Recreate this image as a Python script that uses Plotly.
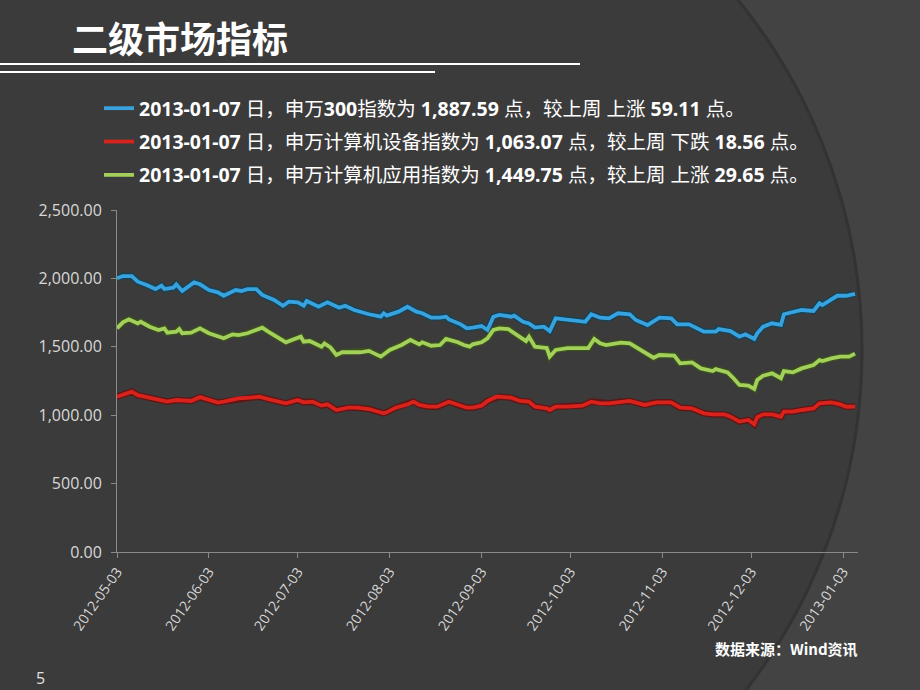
import plotly.graph_objects as go

# ---------------- data ----------------
dates_hs300 = [
    "2012-05-03", "2012-05-05", "2012-05-08", "2012-05-10", "2012-05-13", "2012-05-16", "2012-05-18",
    "2012-05-19", "2012-05-22", "2012-05-23", "2012-05-25", "2012-05-29", "2012-05-31",
    "2012-06-03", "2012-06-06", "2012-06-08", "2012-06-12", "2012-06-14", "2012-06-16", "2012-06-19",
    "2012-06-21", "2012-06-25", "2012-06-28", "2012-06-30",
    "2012-07-03", "2012-07-05", "2012-07-06", "2012-07-10", "2012-07-13", "2012-07-17", "2012-07-19",
    "2012-07-22", "2012-07-27", "2012-07-31",
    "2012-08-01", "2012-08-02", "2012-08-06", "2012-08-09", "2012-08-12", "2012-08-14", "2012-08-17",
    "2012-08-20", "2012-08-22", "2012-08-23", "2012-08-27", "2012-08-29", "2012-08-31",
    "2012-09-03", "2012-09-05", "2012-09-07", "2012-09-09", "2012-09-13", "2012-09-14", "2012-09-17",
    "2012-09-19", "2012-09-21", "2012-09-24", "2012-09-26", "2012-09-28",
    "2012-10-02", "2012-10-08", "2012-10-10", "2012-10-13", "2012-10-16", "2012-10-19", "2012-10-23",
    "2012-10-25", "2012-10-29",
    "2012-11-02", "2012-11-06", "2012-11-08", "2012-11-12", "2012-11-15", "2012-11-17", "2012-11-21",
    "2012-11-22", "2012-11-26", "2012-11-29",
    "2012-12-01", "2012-12-04", "2012-12-05", "2012-12-07", "2012-12-10", "2012-12-13", "2012-12-14",
    "2012-12-17", "2012-12-20", "2012-12-24", "2012-12-26", "2012-12-27", "2012-12-30",
    "2013-01-01", "2013-01-04", "2013-01-07",
]
values_hs300 = [
    2001, 2017, 2017, 1976, 1952, 1922, 1947, 1922, 1932, 1957, 1908, 1971, 1957,
    1915, 1898, 1873, 1915, 1908, 1922, 1922, 1879, 1842, 1800, 1830,
    1825, 1800, 1835, 1793, 1825, 1786, 1800, 1769, 1738, 1720,
    1745, 1728, 1757, 1793, 1757, 1745, 1713, 1713, 1720, 1700, 1664, 1635, 1640,
    1652, 1623, 1720, 1733, 1720, 1728, 1683, 1671, 1640, 1647, 1615, 1708,
    1700, 1683, 1738, 1713, 1708, 1745, 1738, 1696, 1659,
    1713, 1708, 1664, 1664, 1635, 1611, 1611, 1630, 1615, 1574,
    1591, 1557, 1599, 1647, 1672, 1660, 1738, 1750, 1769, 1762, 1818, 1805, 1842,
    1873, 1873, 1887.59,
]

dates_equip = [
    "2012-05-03", "2012-05-05", "2012-05-08", "2012-05-10", "2012-05-13", "2012-05-16", "2012-05-20",
    "2012-05-23", "2012-05-25", "2012-05-28", "2012-05-31",
    "2012-06-03", "2012-06-06", "2012-06-08", "2012-06-11", "2012-06-13", "2012-06-17", "2012-06-20",
    "2012-06-23", "2012-06-26", "2012-06-29",
    "2012-07-01", "2012-07-03", "2012-07-05", "2012-07-08", "2012-07-11", "2012-07-13", "2012-07-16",
    "2012-07-20", "2012-07-23", "2012-07-27",
    "2012-08-01", "2012-08-02", "2012-08-05", "2012-08-09", "2012-08-11", "2012-08-13", "2012-08-16",
    "2012-08-19", "2012-08-23", "2012-08-26", "2012-08-29", "2012-08-31",
    "2012-09-03", "2012-09-05", "2012-09-08", "2012-09-09", "2012-09-13", "2012-09-16", "2012-09-19",
    "2012-09-21", "2012-09-25", "2012-09-26", "2012-09-28",
    "2012-10-02", "2012-10-07", "2012-10-10", "2012-10-13", "2012-10-16", "2012-10-20", "2012-10-23",
    "2012-10-28",
    "2012-11-01", "2012-11-06", "2012-11-09", "2012-11-13", "2012-11-17", "2012-11-20", "2012-11-24",
    "2012-11-26", "2012-11-29",
    "2012-12-02", "2012-12-04", "2012-12-05", "2012-12-07", "2012-12-10", "2012-12-13", "2012-12-14",
    "2012-12-17", "2012-12-20", "2012-12-24", "2012-12-26", "2012-12-30",
    "2013-01-02", "2013-01-04", "2013-01-07",
]
values_equip = [
    1135, 1152, 1172, 1147, 1132, 1122, 1099, 1111, 1111, 1104, 1132,
    1111, 1092, 1099, 1111, 1123, 1128, 1135, 1118, 1099, 1087,
    1099, 1111, 1094, 1099, 1070, 1079, 1038, 1055, 1055, 1045,
    1014, 1021, 1055, 1079, 1099, 1075, 1062, 1062, 1099, 1075, 1055, 1055,
    1070, 1104, 1135, 1135, 1128, 1104, 1099, 1062, 1050, 1038, 1062,
    1062, 1070, 1099, 1087, 1087, 1099, 1104, 1075,
    1094, 1094, 1055, 1050, 1014, 1006, 1006, 989, 953,
    965, 933, 985, 1006, 1006, 989, 1026, 1026, 1038, 1050, 1087, 1094,
    1079, 1062, 1063.07,
]

dates_app = [
    "2012-05-03", "2012-05-05", "2012-05-07", "2012-05-10", "2012-05-11", "2012-05-14", "2012-05-17",
    "2012-05-19", "2012-05-20", "2012-05-23", "2012-05-24", "2012-05-25", "2012-05-28", "2012-05-31",
    "2012-06-03", "2012-06-07", "2012-06-08", "2012-06-11", "2012-06-13", "2012-06-16", "2012-06-19",
    "2012-06-21", "2012-06-23", "2012-06-26", "2012-06-29",
    "2012-07-01", "2012-07-04", "2012-07-05", "2012-07-07", "2012-07-11", "2012-07-12", "2012-07-14",
    "2012-07-16", "2012-07-18", "2012-07-21", "2012-07-24", "2012-07-27", "2012-07-31",
    "2012-08-03", "2012-08-07", "2012-08-10", "2012-08-13", "2012-08-14", "2012-08-17", "2012-08-20",
    "2012-08-22", "2012-08-26", "2012-08-28", "2012-08-30", "2012-08-31",
    "2012-09-03", "2012-09-05", "2012-09-07", "2012-09-09", "2012-09-12", "2012-09-14", "2012-09-18",
    "2012-09-19", "2012-09-21", "2012-09-23", "2012-09-25", "2012-09-26", "2012-09-28",
    "2012-10-02", "2012-10-09", "2012-10-11", "2012-10-13", "2012-10-15", "2012-10-18", "2012-10-20",
    "2012-10-23", "2012-10-27", "2012-10-31",
    "2012-11-02", "2012-11-07", "2012-11-09", "2012-11-13", "2012-11-16", "2012-11-20", "2012-11-21",
    "2012-11-25", "2012-11-27", "2012-11-29",
    "2012-12-02", "2012-12-04", "2012-12-05", "2012-12-07", "2012-12-10", "2012-12-13", "2012-12-14",
    "2012-12-17", "2012-12-20", "2012-12-24", "2012-12-26", "2012-12-27", "2012-12-30",
    "2013-01-02", "2013-01-05", "2013-01-07",
]
values_app = [
    1635, 1679, 1701, 1671, 1683, 1647, 1623, 1635, 1603, 1611, 1630, 1599, 1603, 1635,
    1599, 1574, 1562, 1591, 1585, 1599, 1623, 1640, 1611, 1574, 1533,
    1550, 1574, 1537, 1542, 1501, 1525, 1496, 1440, 1460, 1460, 1460, 1470, 1428,
    1477, 1513, 1550, 1518, 1533, 1508, 1513, 1557, 1533, 1513, 1501, 1518,
    1533, 1562, 1623, 1635, 1630, 1599, 1542, 1574, 1501, 1496, 1491, 1428, 1477,
    1491, 1491, 1557, 1525, 1513, 1525, 1530, 1525, 1469, 1420,
    1440, 1435, 1379, 1386, 1342, 1323, 1337, 1313, 1270, 1221,
    1216, 1192, 1257, 1289, 1306, 1270, 1323, 1313, 1342, 1367, 1403, 1396, 1415,
    1428, 1428, 1449.75,
]

series_names = [
    "<b>2013-01-07</b> 日，申万<b>300</b>指数为 <b>1,887.59</b> 点，较上周 上涨 <b>59.11</b> 点。",
    "<b>2013-01-07</b> 日，申万计算机设备指数为 <b>1,063.07</b> 点，较上周 下跌 <b>18.56</b> 点。",
    "<b>2013-01-07</b> 日，申万计算机应用指数为 <b>1,449.75</b> 点，较上周 上涨 <b>29.65</b> 点。",
]
x_tick_vals = ["2012-05-03", "2012-06-03", "2012-07-03", "2012-08-03", "2012-09-03",
               "2012-10-03", "2012-11-03", "2012-12-03", "2013-01-03"]
y_tick_vals = [0, 500, 1000, 1500, 2000, 2500]

title_text = "二级市场指标"
source_text = "数据来源：Wind资讯"
page_number = "5"

# ---------------- styling ----------------
W, H = 920, 690
ML, MR, MT, MB = 117, 62, 210, 138
PW, PH = W - ML - MR, H - MT - MB


def px(X):
    return (X - ML) / PW


def py(Y):
    return (H - MB - Y) / PH


colors = ["#38a2de", "#d8231c", "#a2d05a"]
shadows = ["rgba(10,70,95,0.75)", "rgba(110,10,10,0.75)", "rgba(60,90,20,0.7)"]
series = [(dates_hs300, values_hs300), (dates_equip, values_equip), (dates_app, values_app)]

fig = go.Figure()
for i, (d, v) in enumerate(series):
    fig.add_trace(go.Scatter(x=d, y=v, mode="lines", showlegend=False, hoverinfo="skip",
                             line=dict(color=shadows[i], width=6.5)))
for i, (d, v) in enumerate(series):
    fig.add_trace(go.Scatter(x=d, y=v, mode="lines", name=series_names[i],
                             legendgroup="g%d" % i,
                             line=dict(color=colors[i], width=3.8)))

font_main = "Noto Sans, Noto Sans CJK SC, sans-serif"
axis_font = dict(family="Open Sans, Noto Sans, sans-serif", size=16, color="#d8d8d8")

# background circle (slide decoration)
cx, cy, R = 306, 350, 556
shapes = [
    dict(type="circle", xref="paper", yref="paper", layer="below",
         x0=px(cx - R), x1=px(cx + R), y0=py(cy + R), y1=py(cy - R),
         fillcolor="#3b3b3b", line=dict(color="#333333", width=3)),
    dict(type="line", xref="paper", yref="paper", x0=px(0), x1=px(580), y0=py(64), y1=py(64),
         line=dict(color="white", width=2)),
    dict(type="line", xref="paper", yref="paper", x0=px(0), x1=px(435), y0=py(72), y1=py(72),
         line=dict(color="white", width=2)),
]

annotations = [
    dict(text="<b>" + title_text + "</b>", xref="paper", yref="paper", x=px(70), y=py(37),
         xanchor="left", yanchor="middle", showarrow=False,
         font=dict(family="Noto Sans CJK SC", size=36, color="white")),
    dict(text="<b>" + source_text + "</b>", xref="paper", yref="paper", x=px(860), y=py(648),
         xanchor="right", yanchor="middle", showarrow=False,
         font=dict(family="Noto Sans CJK SC", size=15, color="white")),
    dict(text=page_number, xref="paper", yref="paper", x=px(40), y=py(678),
         xanchor="center", yanchor="middle", showarrow=False,
         font=dict(family="Open Sans", size=16, color="#e0e0e0")),
]

fig.update_layout(
    width=W, height=H, autosize=False,
    margin=dict(l=ML, r=MR, t=MT, b=MB, pad=0),
    paper_bgcolor="#434343", plot_bgcolor="rgba(0,0,0,0)",
    shapes=shapes, annotations=annotations,
    legend=dict(x=px(99), y=py(89), xanchor="left", yanchor="top",
                bgcolor="rgba(0,0,0,0)", tracegroupgap=5, itemwidth=30,
                font=dict(family=font_main, size=19.5, color="white")),
    xaxis=dict(type="date", range=["2012-05-03", "2013-01-08"],
               tickmode="array", tickvals=x_tick_vals, ticktext=x_tick_vals,
               tickangle=-55, ticks="outside", ticklen=5, tickcolor="#8a8a8a",
               showline=True, linecolor="#8a8a8a", linewidth=1,
               showgrid=False, zeroline=False,
               tickfont=dict(family="Open Sans", size=14, color="#d8d8d8")),
    yaxis=dict(range=[0, 2500], tickmode="array", tickvals=y_tick_vals, tickformat=",.2f",
               ticks="outside", ticklen=5, tickcolor="#8a8a8a", ticklabelstandoff=6,
               showline=True, linecolor="#8a8a8a", linewidth=1,
               showgrid=False, zeroline=False, tickfont=axis_font),
    showlegend=True,
)

fig.write_html("out.html", config={"displayModeBar": False},
               post_script="document.body.style.margin='0px';")
